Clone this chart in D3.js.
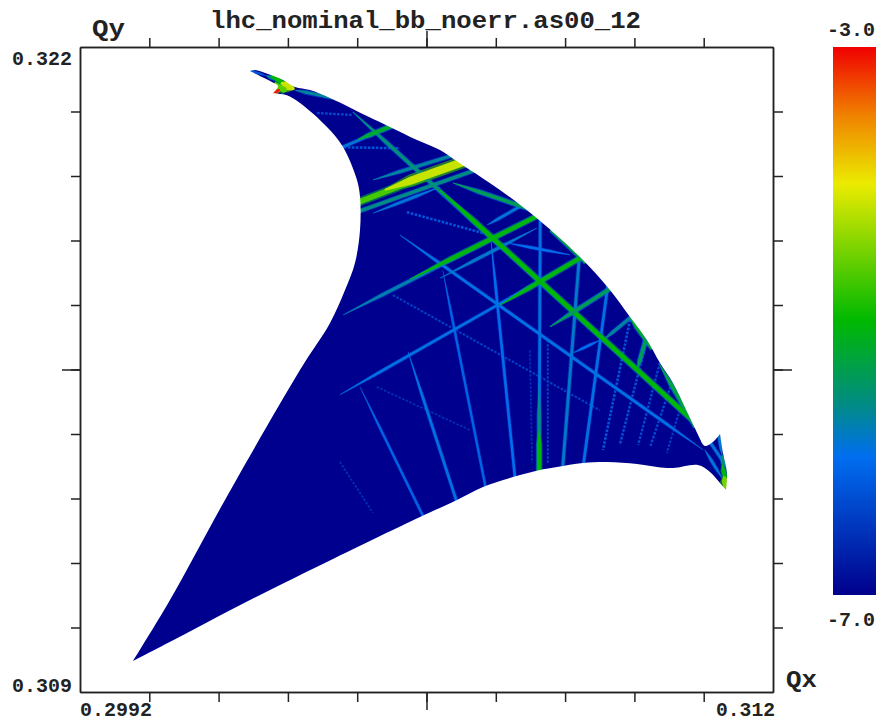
<!DOCTYPE html>
<html>
<head>
<meta charset="utf-8">
<style>
  html, body { margin: 0; padding: 0; background: #fff; }
  svg { display: block; }
  text { font-family: "Liberation Mono", monospace; font-weight: bold; fill: #222; }
  .axis path, .axis line { stroke: #222; stroke-width: 1.5px; }
</style>
<script src="https://cdnjs.cloudflare.com/ajax/libs/d3/7.8.5/d3.min.js"></script>
</head>
<body>
<div id="chart"></div>
<script>
var titleText = "lhc_nominal_bb_noerr.as00_12";
var qxDomain = [0.2992, 0.312];
var qyDomain = [0.309, 0.322];
var logDomain = [-7.0, -3.0];

var qxTicks = [0.30048, 0.30176, 0.30304, 0.30432, 0.3056, 0.30688, 0.30816, 0.30944, 0.31072];
var qyTicks = [0.3103, 0.3116, 0.3129, 0.3142, 0.3155, 0.3168, 0.3181, 0.3194, 0.3207];
var qxMidTick = [0.3056];
var qyMidTick = [0.3155];

// colour bar
var logStops = [-7, -5.99, -5.6, -4.99, -4, -3.5, -3];
var colorStops = ["#00008c", "#006ef0", "#008c82", "#00b900", "#ebeb00", "#f08200", "#f00000"];

// footprint outline
var footprintQx = [0.30234, 0.302432, 0.302672, 0.302949, 0.303171, 0.303448, 0.303818, 0.304501, 0.304926, 0.305424, 0.305849,
  0.306126, 0.306957, 0.307567, 0.308435, 0.308989, 0.309359, 0.309672, 0.309913, 0.310153, 0.310467,
  0.310688, 0.310744, 0.310891, 0.311021, 0.311076, 0.31115, 0.311132, 0.311021, 0.310836, 0.310614,
  0.310153, 0.309857, 0.309488, 0.308934, 0.30849, 0.30801, 0.307696, 0.307198, 0.306643, 0.306163,
  0.30548, 0.30391, 0.30234, 0.301176, 0.300179, 0.300862, 0.301878, 0.303263, 0.303818, 0.304095,
  0.304279, 0.304372, 0.304372, 0.304316, 0.304058, 0.303762, 0.303263, 0.303023, 0.302765, 0.302857, 0.302746, 0.302562];
var footprintQy = [0.321516, 0.321536, 0.321456, 0.321335, 0.321194, 0.321133, 0.320972, 0.320609, 0.320388, 0.320126, 0.319924,
  0.319722, 0.319118, 0.318614, 0.317767, 0.317102, 0.316558, 0.316095, 0.315631, 0.315228, 0.314522,
  0.314019, 0.313958, 0.314039, 0.3142, 0.313817, 0.313414, 0.313071, 0.313212, 0.313434, 0.313575,
  0.313515, 0.313535, 0.313595, 0.313636, 0.313616, 0.313535, 0.313474, 0.313333, 0.313132, 0.31287,
  0.312527, 0.311701, 0.310854, 0.310189, 0.309625, 0.310854, 0.31287, 0.31549, 0.316437, 0.317102,
  0.317647, 0.318312, 0.318977, 0.319319, 0.319984, 0.320388, 0.320871, 0.32103, 0.32107, 0.321214, 0.321295, 0.321395];
// outline points that stay sharp, the arcs between them are smooth
var footprintCorners = [0, 21, 24, 27, 45, 59, 63];

// resonance lines: qx1, qy1, qx2, qy2, log10 of the diffusion rate
var faintLines = [
  [0.30400, 0.31364, 0.30461, 0.31261, -6.55],
  [0.30468, 0.31515, 0.30640, 0.31428, -6.55],
  [0.30751, 0.31589, 0.30755, 0.31362, -6.55],
  [0.30784, 0.31609, 0.30784, 0.31362, -6.4],
  [0.30498, 0.31700, 0.30880, 0.31468, -6.4],
  [0.31032, 0.31484, 0.31004, 0.31382, -6.4],
  [0.31013, 0.31523, 0.30973, 0.31394, -6.3],
  [0.30991, 0.31563, 0.30951, 0.31398, -6.3],
  [0.30967, 0.31609, 0.30917, 0.31398, -6.25],
  [0.30936, 0.31650, 0.30886, 0.31388, -6.2],
  [0.30358, 0.32067, 0.30424, 0.32063, -6.3],
  [0.30400, 0.31998, 0.30511, 0.31996, -6.2],
  [0.30524, 0.31867, 0.30664, 0.31825, -6.2]
];
var blueLines = [
  [0.30437, 0.31515, 0.30548, 0.31267, -6.1],
  [0.30590, 0.31750, 0.30668, 0.31319, -6.1],
  [0.30526, 0.31585, 0.30613, 0.31293, -5.95],
  [0.30679, 0.31811, 0.30723, 0.31337, -6.0],
  [0.30893, 0.31704, 0.30851, 0.31368, -5.95],
  [0.30842, 0.31773, 0.30812, 0.31358, -5.85],
  [0.30770, 0.31847, 0.30768, 0.31347, -5.95],
  [0.30511, 0.31821, 0.31071, 0.31388, -5.95],
  [0.30400, 0.31499, 0.30844, 0.31775, -5.95],
  [0.30406, 0.31660, 0.30760, 0.31857, -5.75],
  [0.30585, 0.31734, 0.30764, 0.31835, -5.85],
  [0.30672, 0.31841, 0.30727, 0.31875, -5.9],
  [0.30461, 0.31932, 0.30598, 0.31978, -5.7],
  [0.30441, 0.31871, 0.30640, 0.31948, -5.6],
  [0.30461, 0.31865, 0.30585, 0.31918, -5.9],
  [0.30400, 0.31996, 0.30492, 0.32039, -5.9],
  [0.30830, 0.31583, 0.30880, 0.31609, -6.0],
  [0.30709, 0.31805, 0.30825, 0.31781, -6.0],
  [0.30886, 0.31609, 0.30936, 0.31654, -5.7],
  [0.30768, 0.31519, 0.30768, 0.31347, -5.6],
  [0.30424, 0.32069, 0.31047, 0.31452, -5.55],
  [0.30317, 0.32113, 0.30372, 0.32101, -5.7]
];
var greenLines = [
  [0.30585, 0.31912, 0.31047, 0.31452, -5.0],
  [0.30530, 0.31732, 0.30760, 0.31857, -5.05],
  [0.30696, 0.31680, 0.30844, 0.31775, -5.05],
  [0.30768, 0.31428, 0.30768, 0.31347, -5.05],
  [0.30432, 0.32013, 0.30492, 0.32039, -5.2],
  [0.30609, 0.31926, 0.30746, 0.31875, -5.4],
  [0.30801, 0.31821, 0.30844, 0.31777, -5.3],
  [0.30936, 0.31654, 0.30969, 0.31605, -5.2],
  [0.30788, 0.31636, 0.30895, 0.31710, -5.4],
  [0.30949, 0.31549, 0.30963, 0.31603, -5.4],
  [0.30991, 0.31559, 0.31050, 0.31448, -5.3]
];
var yellowLines = [
  [0.30441, 0.31890, 0.30622, 0.31966, -4.7],
  [0.30483, 0.31912, 0.30622, 0.31966, -4.15]
];
// the two ends of the footprint
var tipLines = [
  [0.30236, 0.32152, 0.30264, 0.32142, -6.2],
  [0.30264, 0.32142, 0.30286, 0.32134, -5.6],
  [0.30286, 0.32134, 0.30297, 0.32125, -5.0],
  [0.30291, 0.32128, 0.30316, 0.32115, -4.15],
  [0.30291, 0.32117, 0.30302, 0.32111, -4.6],
  [0.30282, 0.32109, 0.30289, 0.32115, -3.1],
  [0.31074, 0.31388, 0.31106, 0.31331, -5.9],
  [0.31087, 0.31398, 0.31108, 0.31364, -5.9],
  [0.31100, 0.31416, 0.31106, 0.31378, -5.9],
  [0.31106, 0.31378, 0.31109, 0.31351, -5.55],
  [0.31106, 0.31358, 0.31113, 0.31327, -5.05],
  [0.31109, 0.31335, 0.31115, 0.31311, -4.5]
];
var ribbonLines = blueLines.concat(greenLines, yellowLines, tipLines);

var width = 876, height = 722;
var plot = { left: 80, right: 773, top: 47, bottom: 692 };
var bar = { left: 833, right: 876, top: 47, bottom: 595 };

var svg = d3.select("#chart").append("svg").attr("width", width).attr("height", height);

var x = d3.scaleLinear().domain(qxDomain).range([plot.left, plot.right]);
var y = d3.scaleLinear().domain(qyDomain).range([plot.bottom, plot.top]);
var color = d3.scaleLinear().domain(logStops).range(colorStops).clamp(true);
var barY = d3.scaleLinear().domain(logDomain).range([bar.bottom, bar.top]);
// stronger resonances are wider in the scan
var lineWidth = d3.scaleLinear().domain([-6.6, -6, -5, -4.15, -4, -3]).range([1.5, 3, 4.8, 9, 5, 3]).clamp(true);

var footprintPoints = footprintQx.map(function (d, i) { return [x(d), y(footprintQy[i])]; });

var defs = svg.append("defs");
defs.append("filter").attr("id", "soft")
  .attr("x", "-5%").attr("y", "-5%").attr("width", "110%").attr("height", "110%")
  .append("feGaussianBlur").attr("stdDeviation", 0.6);

var polygonPath = d3.line().curve(d3.curveLinearClosed);
var arcPath = d3.line().curve(d3.curveCatmullRom.alpha(0.5));

// smooth arcs joined at the corners
var outlinePath = "";
footprintCorners.slice(1).forEach(function (end, i) {
  var arc = footprintPoints.slice(footprintCorners[i], end + 1);
  if (end == footprintPoints.length) { arc.push(footprintPoints[0]); }
  var d = arcPath(arc);
  outlinePath += i == 0 ? d : "L" + d.slice(1);
});
outlinePath += "Z";

defs.append("clipPath").attr("id", "footprint")
  .append("path").attr("d", outlinePath);

var field = svg.append("g").attr("clip-path", "url(#footprint)")
  .append("g").attr("filter", "url(#soft)");

field.append("path")
  .attr("d", outlinePath)
  .attr("fill", color(-6.97))
  .attr("stroke", color(-6.97))
  .attr("stroke-width", 4);

field.selectAll(".faint").data(faintLines).enter()
  .append("line").attr("class", "faint")
  .attr("x1", function (d) { return x(d[0]); })
  .attr("y1", function (d) { return y(d[1]); })
  .attr("x2", function (d) { return x(d[2]); })
  .attr("y2", function (d) { return y(d[3]); })
  .attr("stroke", function (d) { return color(d[4]); })
  .attr("stroke-width", function (d) { return lineWidth(d[4]); })
  .attr("stroke-dasharray", "2.5 1.5");

// a resonance fades out where it stops inside the footprint, and runs
// on at full width where it hits the edge
function ribbon(d, scale) {
  var x1 = x(d[0]), y1 = y(d[1]), x2 = x(d[2]), y2 = y(d[3]);
  var len = Math.hypot(x2 - x1, y2 - y1);
  var ux = (x2 - x1) / len, uy = (y2 - y1) / len;
  var w = lineWidth(d[4]) * scale / 2;
  var taper = Math.min(len * 0.35, 45);
  var freeStart = d3.polygonContains(footprintPoints, [x1 - ux * 7, y1 - uy * 7]);
  var freeEnd = d3.polygonContains(footprintPoints, [x2 + ux * 7, y2 + uy * 7]);
  var a = freeStart ? 0 : -8, b = freeStart ? taper : -8;
  var c = freeEnd ? len - taper : len + 8, e = freeEnd ? len : len + 8;
  var pts = [];
  [[a, 0.2], [b, 1], [c, 1], [e, 0.2]].forEach(function (p) {
    pts.push([x1 + ux * p[0] - uy * w * p[1], y1 + uy * p[0] + ux * w * p[1]]);
  });
  [[e, 0.2], [c, 1], [b, 1], [a, 0.2]].forEach(function (p) {
    pts.push([x1 + ux * p[0] + uy * w * p[1], y1 + uy * p[0] - ux * w * p[1]]);
  });
  return polygonPath(pts);
}

field.selectAll(".halo").data(ribbonLines).enter()
  .append("path").attr("class", "halo")
  .attr("d", function (d) { return ribbon(d, 1.4); })
  .attr("fill", function (d) { return color(d[4] - 0.6); })
  .attr("fill-opacity", 0.6);

field.selectAll(".core").data(ribbonLines).enter()
  .append("path").attr("class", "core")
  .attr("d", function (d) { return ribbon(d, 0.9); })
  .attr("fill", function (d) { return color(d[4]); });

// frame and ticks
function addAxis(axis, dx, dy) {
  svg.append("g").attr("class", "axis")
    .attr("transform", "translate(" + dx + "," + dy + ")")
    .call(axis.tickSizeOuter(0).tickFormat(""));
}
addAxis(d3.axisTop(x).tickValues(qxTicks).tickSize(9), 0, plot.top);
addAxis(d3.axisBottom(x).tickValues(qxTicks).tickSize(10), 0, plot.bottom);
addAxis(d3.axisLeft(y).tickValues(qyTicks).tickSize(9), plot.left, 0);
addAxis(d3.axisRight(y).tickValues(qyTicks).tickSize(10), plot.right, 0);
addAxis(d3.axisTop(x).tickValues(qxMidTick).tickSize(16), 0, plot.top);
addAxis(d3.axisBottom(x).tickValues(qxMidTick).tickSize(18), 0, plot.bottom);
addAxis(d3.axisLeft(y).tickValues(qyMidTick).tickSize(18), plot.left, 0);
addAxis(d3.axisRight(y).tickValues(qyMidTick).tickSize(19), plot.right, 0);

// colour bar
var barGradient = defs.append("linearGradient").attr("id", "barColors")
  .attr("x1", 0).attr("y1", 1).attr("x2", 0).attr("y2", 0);
barGradient.selectAll("stop").data(logStops).enter()
  .append("stop")
  .attr("offset", function (d) { return (d - logDomain[0]) / (logDomain[1] - logDomain[0]); })
  .attr("stop-color", function (d) { return color(d); });

svg.append("rect")
  .attr("x", bar.left).attr("y", barY(logDomain[1]))
  .attr("width", bar.right - bar.left)
  .attr("height", barY(logDomain[0]) - barY(logDomain[1]))
  .attr("fill", "url(#barColors)");

// the font of the original is a wide bitmap one, so stretch to its measured length
function label(str, x0, base, len, size) {
  svg.append("text")
    .attr("x", x0).attr("y", base)
    .attr("font-size", size)
    .attr("textLength", len)
    .attr("lengthAdjust", "spacingAndGlyphs")
    .text(str);
}
label(titleText, 210, 28, 431, 23);
label("Qy", 92, 36, 33, 23);
label("Qx", 786, 687, 31, 23);
label(d3.format(".3f")(qyDomain[1]), 12, 65, 60, 21);
label(d3.format(".3f")(qyDomain[0]), 12, 692, 60, 21);
label(d3.format(".4f")(qxDomain[0]), 80, 716, 72, 20);
label(d3.format(".3f")(qxDomain[1]), 716, 716, 59, 20);
label(d3.format(".1f")(logDomain[1]).replace("\u2212", "-"), 827, 36, 48, 21);
label(d3.format(".1f")(logDomain[0]).replace("\u2212", "-"), 827, 626, 48, 21);
</script>
</body>
</html>
